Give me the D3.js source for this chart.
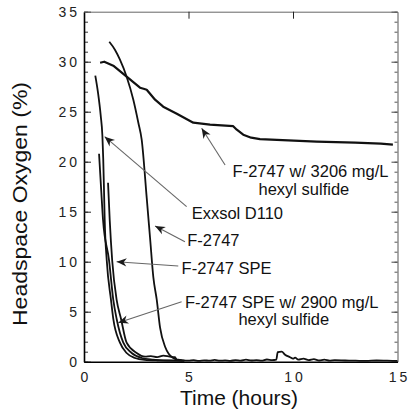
<!DOCTYPE html>
<html><head><meta charset="utf-8">
<script src="https://cdn.jsdelivr.net/npm/d3@7"></script>
<style>
body{margin:0;background:#fff;}
svg{display:block;font-family:"Liberation Sans",Arial,Helvetica,sans-serif;}
</style>
</head><body>
<svg id="chart" width="410" height="420"></svg>
<script>
// ---- data (time in hours, headspace oxygen in %) ----
const hexyl3206 = [[0.77,29.9],[0.97,30.0],[1.40,29.6],[2.04,28.5],[2.68,27.4],[2.85,27.3],[3.0,27.2],[3.16,26.8],[3.40,26.2],[3.79,25.5],[4.44,24.8],[5.23,23.9],[6.03,23.7],[7.14,23.55],[7.31,23.2],[7.62,22.7],[8.0,22.4],[8.42,22.25],[9.5,22.15],[11.13,22.0],[12.97,21.9],[14.2,21.8],[14.78,21.7]];
const f2747 = [[1.21,32.0],[1.48,31.2],[1.72,30.2],[2.04,28.5],[2.36,26.2],[2.60,23.9],[2.76,22.2],[3.0,16.4],[3.16,12.4],[3.32,8.4],[3.48,6.2],[3.64,3.4],[3.88,1.5],[4.05,0.8],[4.27,0.37],[4.5,0.2],[4.74,0.13],[5.0,0.1],[5.25,0.15],[5.5,0.08],[5.75,0.14],[6.0,0.1],[6.25,0.18],[6.5,0.1],[6.75,0.13],[7.0,0.08],[7.25,0.16],[7.5,0.1],[7.75,0.2],[8.0,0.12],[8.25,0.16],[8.5,0.1],[8.75,0.22],[9.0,0.15],[9.2,0.2],[9.27,0.95],[9.46,1.0],[9.62,0.7],[9.86,0.45],[10.0,0.3],[10.1,0.4],[10.25,0.2],[10.5,0.3],[10.75,0.15],[11.0,0.25],[11.25,0.12],[11.5,0.2],[11.75,0.1],[12.0,0.15],[12.5,0.12],[13.0,0.1],[13.5,0.08],[14.0,0.12],[14.5,0.1],[15.0,0.08]];
const exxsol = [[0.54,28.6],[0.67,26.9],[0.80,24.6],[0.88,22.6],[0.92,20.3],[0.96,16.9],[0.99,14.2],[1.09,10.1],[1.29,6.2],[1.40,4.3],[1.72,1.9],[2.04,0.87],[2.44,0.37],[2.9,0.18],[3.5,0.12],[4.2,0.1],[4.8,0.08]];
const spe = [[1.15,17.9],[1.23,14.2],[1.35,10.1],[1.56,6.2],[1.77,4.3],[2.04,1.9],[2.52,0.87],[2.92,0.5],[3.2,0.55],[3.5,0.45],[3.8,0.6],[4.1,0.5],[4.35,0.45],[4.45,0.15],[4.8,0.1]];
const speHexyl2900 = [[0.72,20.8],[0.83,16.9],[0.91,14.2],[1.20,10.1],[1.40,6.2],[1.56,4.3],[1.88,1.9],[2.28,0.87],[2.76,0.37],[3.3,0.2],[4.0,0.12],[4.7,0.1]];

const xTicks = [0,5,10,15];
const yTicks = [0,5,10,15,20,25,30,35];
const yMinorTicks = d3.range(0,36,1);

const labels = [
  ["F-2747 w/ 3206 mg/L","hexyl sulfide"],
  ["Exxsol D110"],
  ["F-2747"],
  ["F-2747 SPE"],
  ["F-2747 SPE w/ 2900 mg/L","hexyl sulfide"]
];
// annotation layout in data units: text anchor, second line centre, arrow tail, arrow tip
const labelPos   = [[7.11,18.44],[5.15,14.27],[4.94,11.57],[4.67,8.77],[4.83,5.34]];
const line2Pos   = [[10.52,16.67],null,null,null,[9.56,3.67]];
const arrowTail  = [[6.75,19.67],[4.91,15.5],[4.83,12.0],[4.51,9.57],[4.67,6.0]];
const arrowTip   = [[5.63,23.34],[0.99,22.5],[3.40,13.57],[1.56,10.0],[1.64,3.9]];

// ---- drawing ----
const svg = d3.select("#chart");
const x = d3.scaleLinear().domain([0,15]).range([84,397.5]);
const y = d3.scaleLinear().domain([0,35]).range([361.7,11.7]);

const defs = svg.append("defs");
defs.append("marker").attr("id","ah").attr("markerUnits","userSpaceOnUse")
  .attr("viewBox","-11 -5 12 10").attr("refX",0).attr("refY",0)
  .attr("markerWidth",12).attr("markerHeight",10).attr("orient","auto")
  .append("path").attr("d","M0,0 L-10,-4.2 L-7,0 L-10,4.2 Z").attr("fill","#1a1a1a");

const tickFont = g => g.selectAll("text").attr("font-size",14).attr("letter-spacing","3px").attr("fill","#222");

// left axis
svg.append("g").attr("transform",`translate(${x(0)},0)`)
  .call(d3.axisLeft(y).tickValues(yMinorTicks).tickSize(-4).tickSizeOuter(0).tickFormat(""))
  .call(g=>g.select(".domain").remove())
  .call(g=>g.selectAll("line").attr("stroke","#333"));
svg.append("g").attr("transform",`translate(${x(0)},0)`)
  .call(d3.axisLeft(y).tickValues(yTicks).tickSize(-7).tickSizeOuter(0).tickPadding(4))
  .call(g=>g.select(".domain").attr("stroke","#000").attr("stroke-width",1.6))
  .call(g=>g.selectAll("line").attr("stroke","#222"))
  .call(tickFont);
// right axis
svg.append("g").attr("transform",`translate(${x(15)},0)`)
  .call(d3.axisRight(y).tickValues(yMinorTicks).tickSize(-3).tickSizeOuter(0).tickFormat(""))
  .call(g=>g.select(".domain").attr("stroke","#555").attr("stroke-width",1))
  .call(g=>g.selectAll("line").attr("stroke","#555"));
svg.append("g").attr("transform",`translate(${x(15)},0)`)
  .call(d3.axisRight(y).tickValues(yTicks).tickSize(-6).tickSizeOuter(0).tickFormat(""))
  .call(g=>g.select(".domain").remove())
  .call(g=>g.selectAll("line").attr("stroke","#444"));
// top axis
svg.append("g").attr("transform",`translate(0,${y(35)})`)
  .call(d3.axisTop(x).tickValues([5,10]).tickSize(-7).tickSizeOuter(0).tickFormat(""))
  .call(g=>g.select(".domain").attr("stroke","#666").attr("stroke-width",1))
  .call(g=>g.selectAll("line").attr("stroke","#222"));
// bottom axis
svg.append("g").attr("transform",`translate(0,${y(0)})`)
  .call(d3.axisBottom(x).tickValues(xTicks).tickSize(0).tickSizeOuter(0).tickPadding(10))
  .call(g=>g.select(".domain").attr("stroke","#000").attr("stroke-width",1.6))
  .call(tickFont)
  .call(g=>g.selectAll("text").attr("dx","1.5"));

svg.selectAll("g").attr("font-family",null);

// data lines
const line = d3.line().x(d=>x(d[0])).y(d=>y(d[1])).curve(d3.curveMonotoneX);
const lineLin = d3.line().x(d=>x(d[0])).y(d=>y(d[1]));
svg.append("path").datum(hexyl3206).attr("d",lineLin).attr("fill","none").attr("stroke","#111").attr("stroke-width",2.2).attr("stroke-linejoin","round");
[f2747, exxsol, spe, speHexyl2900].forEach(s=>{
  svg.append("path").datum(s).attr("d",line).attr("fill","none").attr("stroke","#111").attr("stroke-width",1.8).attr("stroke-linejoin","round");
});

// annotations
const ann = svg.append("g").attr("font-size",16.5).attr("fill","#111");
labels.forEach((lab,i)=>{
  ann.append("line")
    .attr("x1",x(arrowTail[i][0])).attr("y1",y(arrowTail[i][1]))
    .attr("x2",x(arrowTip[i][0])).attr("y2",y(arrowTip[i][1]))
    .attr("stroke","#666").attr("stroke-width",1.1).attr("marker-end","url(#ah)");
  ann.append("text").attr("x",x(labelPos[i][0])).attr("y",y(labelPos[i][1])).text(lab[0]);
  if(lab[1]) ann.append("text").attr("x",x(line2Pos[i][0])).attr("y",y(line2Pos[i][1]))
    .attr("text-anchor","middle").text(lab[1]);
});

// axis titles
svg.append("text").attr("x",239).attr("y",405).attr("text-anchor","middle")
  .attr("font-size",20).attr("fill","#111")
  .attr("textLength",118).attr("lengthAdjust","spacingAndGlyphs").text("Time (hours)");
svg.append("text").attr("transform","translate(27,204) rotate(-90)").attr("text-anchor","middle")
  .attr("font-size",20).attr("fill","#111")
  .attr("textLength",244).attr("lengthAdjust","spacingAndGlyphs").text("Headspace Oxygen (%)");
</script>
</body></html>
